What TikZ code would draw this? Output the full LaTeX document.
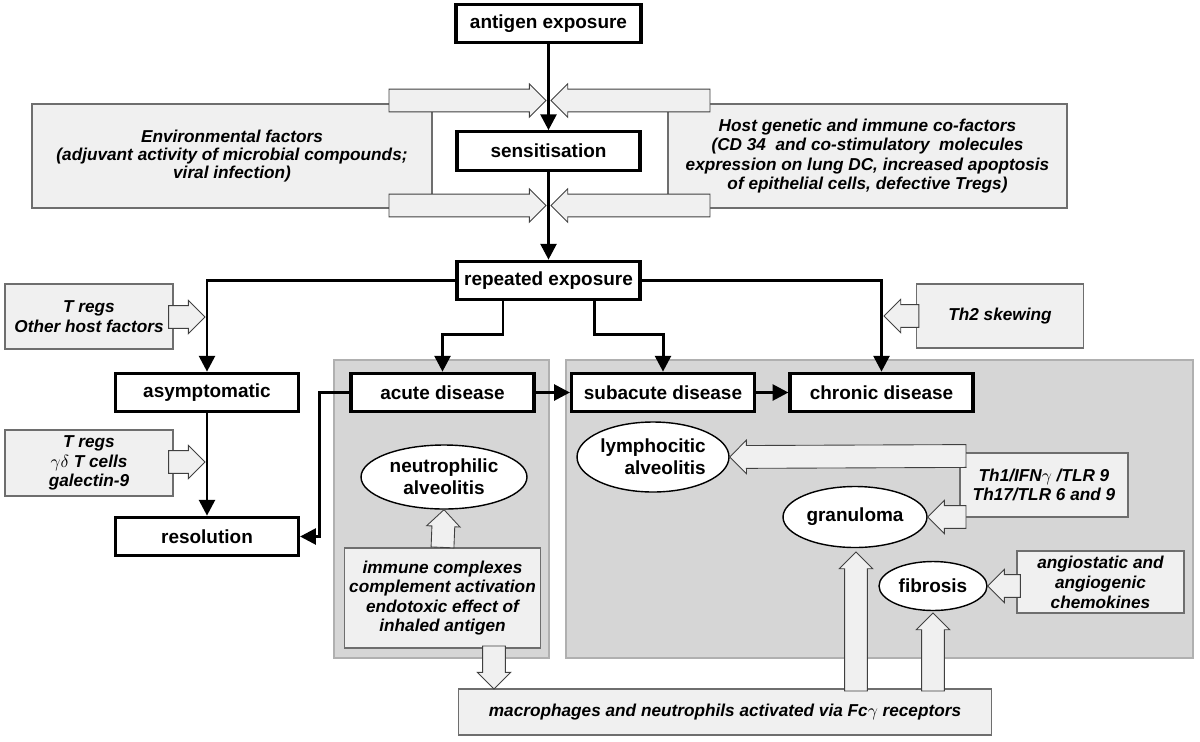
\documentclass[tikz,border=0pt]{standalone}
\usepackage{fontspec}
\setmainfont{Liberation Sans}
\usetikzlibrary{positioning, shapes.geometric, arrows.meta, calc}

\definecolor{panelgray}{HTML}{D6D6D6}
\definecolor{panelline}{HTML}{B0B0B0}
\definecolor{factorfill}{HTML}{F0F0F0}
\definecolor{factorline}{HTML}{6E6E6E}

\tikzset{
  stage/.style={draw, line width=1.8pt, fill=white, minimum width=3.66cm, minimum height=0.77cm, inner sep=0pt, font=\fontsize{10.8}{12}\selectfont\bfseries},
  factor/.style={draw=factorline, line width=0.7pt, fill=factorfill, inner sep=0pt, align=center, font=\fontsize{9.8}{11}\selectfont\bfseries\itshape},
  cell/.style={ellipse, draw, line width=0.8pt, fill=white, inner sep=0pt, align=center, font=\fontsize{10.8}{12.3}\selectfont\bfseries},
  panel/.style={draw=panelline, line width=1.2pt, fill=panelgray},
  flow/.style={line width=1.7pt, -{Triangle[length=9pt,width=9pt]}},
  fat/.style={draw=black!75, line width=0.5pt, fill=factorfill},
}

% hollow block arrow from #1 (tail) to #2 (tip)
\newcommand{\fatarrow}[2]{%
  \path[fat] let \p1=(#1), \p2=(#2), \n1={veclen(\x2-\x1,\y2-\y1)},
    \n2={(\x2-\x1)/\n1}, \n3={(\y2-\y1)/\n1} in
    ({\x1-(\n3)*6.5pt}, {\y1+(\n2)*6.5pt})
    -- ({\x2-(\n2)*9.5pt-(\n3)*6.5pt}, {\y2-(\n3)*9.5pt+(\n2)*6.5pt})
    -- ({\x2-(\n2)*9.5pt-(\n3)*9.5pt}, {\y2-(\n3)*9.5pt+(\n2)*9.5pt})
    -- (\x2, \y2)
    -- ({\x2-(\n2)*9.5pt+(\n3)*9.5pt}, {\y2-(\n3)*9.5pt-(\n2)*9.5pt})
    -- ({\x2-(\n2)*9.5pt+(\n3)*6.5pt}, {\y2-(\n3)*9.5pt-(\n2)*6.5pt})
    -- ({\x1+(\n3)*6.5pt}, {\y1-(\n2)*6.5pt}) -- cycle;
}

\begin{document}
\begin{tikzpicture}[x=0.02cm, y=-0.02cm]
          \useasboundingbox (0,0) rectangle (1200,741);

          \draw[panel] (334,360) rectangle (549,658);
          \draw[panel] (566,360) rectangle (1193,658);

          \node[factor, minimum width=8cm, minimum height=2.08cm, font=\fontsize{9.8}{10.3}\selectfont\bfseries\itshape] (env) at (232,156)
            {Environmental factors\\(adjuvant activity of microbial compounds;\\viral infection)};
          \node[factor, minimum width=7.98cm, minimum height=2.08cm] (host) at (867.5,156)
            {Host genetic and immune co-factors\\(CD 34~ and co-stimulatory~ molecules\\expression on lung DC, increased apoptosis\\of epithelial cells, defective Tregs)};
          \node[factor, minimum width=3.36cm, minimum height=1.3cm] (hostreg) at (89,316.5) {T regs\\Other host factors};
          \node[factor, minimum width=3.36cm, minimum height=1.32cm] (resolreg) at (89,463) {T regs\\$\gamma\delta$ T cells\\galectin-9};
          \node[factor, minimum width=3.34cm, minimum height=1.28cm] (th2) at (1000,316) {Th2 skewing};
          \node[factor, minimum width=3.36cm, minimum height=1.28cm, font=\fontsize{9.8}{10.4}\selectfont\bfseries\itshape] (th1) at (1044,485) {Th1/IFN$\gamma$ /TLR 9\\Th17/TLR 6 and 9};
          \node[factor, minimum width=3.34cm, minimum height=1.24cm, font=\fontsize{9.8}{11.4}\selectfont\bfseries\itshape] (angio) at (1100.5,582) {angiostatic and\\angiogenic\\chemokines};
          \node[factor, minimum width=3.92cm, minimum height=2cm] (immune) at (442.5,598) {immune complexes\\complement activation\\endotoxic effect of\\inhaled antigen};
          \node[factor, minimum width=10.66cm, minimum height=0.92cm] (macro) at (725,712) {macrophages and neutrophils activated via Fc$\gamma$ receptors};

          \node[stage, minimum width=3.7cm] (expo) at (548.5,23.5) {antigen exposure};
          \node[stage] (sens) at (548.5,151) {sensitisation};
          \node[stage] (rep) at (548.5,280.5) {repeated exposure};
          \node[stage] (asym) at (207,392.5) {asymptomatic};
          \node[stage] (resol) at (207,536.5) {resolution};
          \node[stage] (acute) at (442.5,392.5) {acute disease};
          \node[stage] (subac) at (663,392.5) {subacute disease};
          \node[stage] (chron) at (881.5,392.5) {chronic disease};

          \node[cell, minimum width=3.32cm, minimum height=1.28cm] (neut) at (444,477) {neutrophilic\\alveolitis};
          \node[cell, minimum width=3.04cm, minimum height=1.4cm, align=right] (lymph) at (653,457) {lymphocitic\\alveolitis};
          \node[cell, minimum width=2.88cm, minimum height=1.22cm] (gran) at (855,517) {granuloma};
          \node[cell, minimum width=2.16cm, minimum height=0.98cm] (fib) at (933,586) {fibrosis};

          \coordinate (splitL) at (503,334);
          \coordinate (splitR) at (594,334);
          \path (expo) edge[flow] (sens);
          \path (sens) edge[flow] (rep);
          \draw[flow] (rep.west) -| (asym.north);
          \draw[flow] (rep.east) -| (chron.north);
          \draw[flow] (rep.south -| splitL) -- (splitL) -| (acute.north);
          \draw[flow] (rep.south -| splitR) -- (splitR) -| (subac.north);
          \path (asym) edge[flow] (resol);
          \path (acute) edge[flow] (subac);
          \path (subac) edge[flow] (chron);
          \draw[flow] (acute.west) -- ++(-30,0) |- (resol.east);

          \coordinate (envtop) at (389,100.5);
          \coordinate (envbot) at (389,205.5);
          \coordinate (hosttop) at (710,100.5);
          \coordinate (hostbot) at (710,205.5);
          \coordinate (sensin) at (546,100.5);
          \coordinate (sensout) at (546,205.5);
          \coordinate (sensin2) at (551,100.5);
          \coordinate (sensout2) at (551,205.5);
          \fatarrow{envtop}{sensin}
          \fatarrow{envbot}{sensout}
          \fatarrow{hosttop}{sensin2}
          \fatarrow{hostbot}{sensout2}

          \coordinate (asymin) at (205,317);
          \coordinate (resolin) at (205,462);
          \coordinate (chronin) at (884,316);
          \fatarrow{$(hostreg.east)+(-5,0.5)$}{asymin}
          \fatarrow{$(resolreg.east)+(-5,-1)$}{resolin}
          \fatarrow{$(th2.west)+(3,0)$}{chronin}

          \coordinate (th1top) at (966,456);
          \coordinate (th1bot) at (966,517);
          \fatarrow{th1top}{lymph.east}
          \fatarrow{th1bot}{gran.east}
          \fatarrow{$(angio.west)+(4,4)$}{fib.east}

          \fatarrow{immune.north}{neut.south}
          \coordinate (immout) at (494,646);
          \coordinate (macroin) at (494,689);
          \fatarrow{immout}{macroin}

          \coordinate (granfrom) at (856,691);
          \coordinate (granto) at (856,552);
          \coordinate (fibfrom) at (933,691);
          \coordinate (fibto) at (933,613);
          \fatarrow{granfrom}{granto}
          \fatarrow{fibfrom}{fibto}
\end{tikzpicture}
\end{document}
